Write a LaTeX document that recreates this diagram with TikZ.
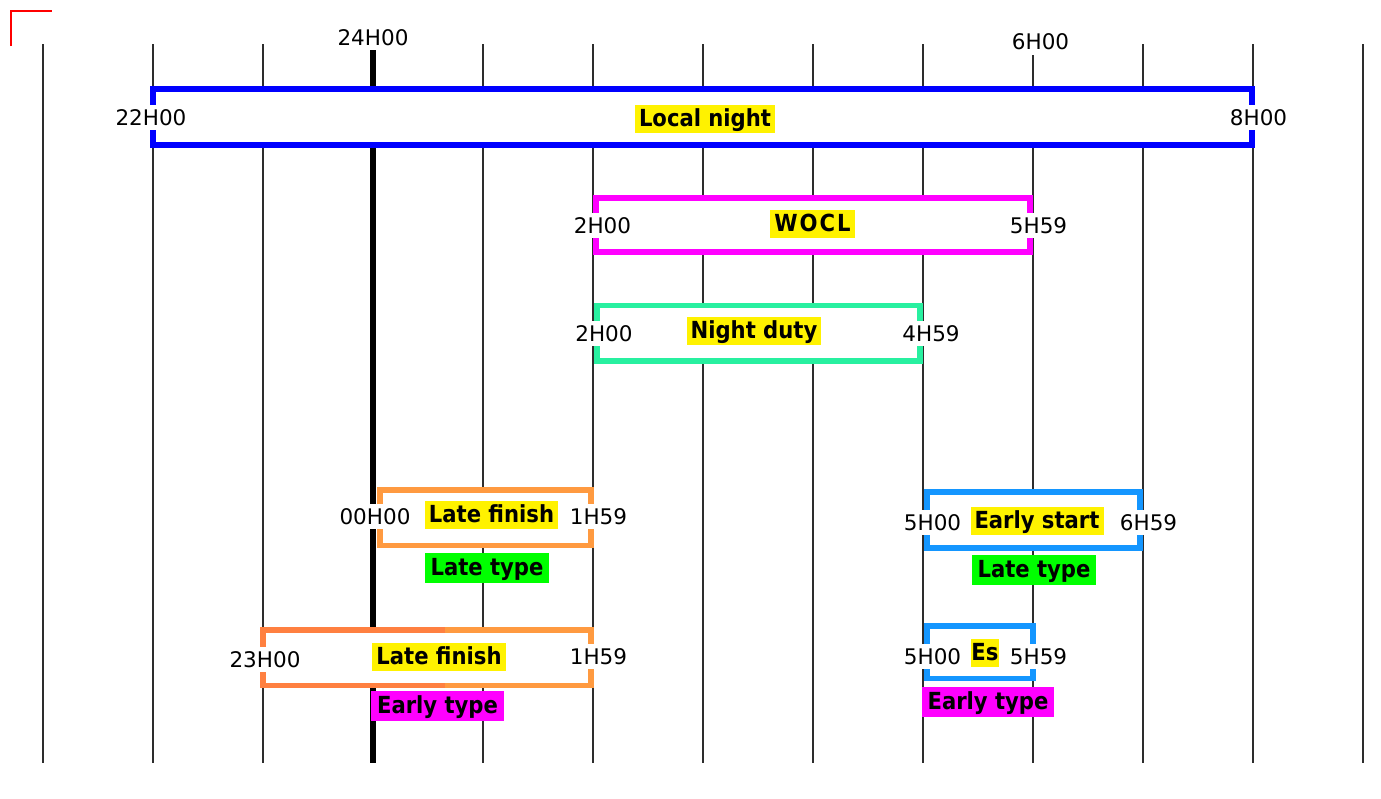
\documentclass[tikz,border=0pt]{standalone}
\usepackage{fontspec}
\setmainfont{DejaVu Sans}
\newfontfamily\tagfont{DejaVu Sans Condensed}
\definecolor{nightblue}{RGB}{0,0,255}
\definecolor{woclpink}{RGB}{255,0,255}
\definecolor{dutygreen}{RGB}{40,240,160}
\definecolor{finishorange}{RGB}{255,154,64}
\definecolor{finishdark}{RGB}{255,128,64}
\definecolor{startblue}{RGB}{20,150,255}
\definecolor{typegreen}{RGB}{0,255,0}
\definecolor{gridgray}{RGB}{45,45,45}

\begin{document}
\begin{tikzpicture}[x=1pt,y=-1pt,
	hour/.style={fill=white,inner xsep=1pt,inner ysep=4.5pt,text height=16pt,text depth=0pt,font=\fontsize{21.5}{24}\selectfont},
	tag/.style={fill=yellow,inner xsep=4pt,inner ysep=3.5pt,text height=18pt,text depth=3pt,font=\tagfont\fontsize{23.5}{26}\selectfont\bfseries},
	kind/.style={tag,inner xsep=6pt,inner ysep=4.5pt},
	span/.style={draw=#1,fill=white,line width=5.5pt}]
			
			\useasboundingbox (0,0) rectangle (1381,798);
			
			% corner mark
			\draw[red,line width=2pt] (11,46) -- (11,11) -- (52,11);
			
			% hour lines
			\foreach \x in {43,153,263,483,593,703,813,923,1143,1253,1363}
				\draw[gridgray,line width=2pt] (\x,44) -- (\x,763);
			\draw[gridgray,line width=2pt] (1033,55) -- (1033,763);
			\draw[black,line width=6pt] (373,50) -- (373,763);
			
			\node[hour] (h24) at (373,37) {24H00};
			\node[hour] (h6) at (1040.5,41) {6H00};
			
			% local night
			\draw[span=nightblue] (153,89) rectangle (1252,145);
			\node[hour] (night-a) at (151,117.5) {22H00};
			\node[hour] (night-b) at (1258.5,117.5) {8H00};
			\node[tag] (night) at (705,118.5) {Local night};
			
			% WOCL
			\draw[span=woclpink] (596,198) rectangle (1030,252);
			\node[hour] (wocl-a) at (602.5,225) {2H00};
			\node[hour] (wocl-b) at (1038.5,225) {5H59};
			\node[tag] (wocl) at (812.5,223.5) {W\kern2pt O\kern2pt C\kern2pt L};
			
			% night duty
			\draw[span=dutygreen] (597,305.5) rectangle (920,361);
			\node[hour] (duty-a) at (604,333.5) {2H00};
			\node[hour] (duty-b) at (931,333.5) {4H59};
			\node[tag] (duty) at (754,331) {Night duty};
			
			% late finish, late type
			\draw[span=finishorange] (380,490) rectangle (591,545.5);
			\node[hour] (lf1-a) at (375,516.5) {00H00};
			\node[hour] (lf1-b) at (598.5,516) {1H59};
			\node[tag] (lf1) at (491.5,515) {Late finish};
			\node[kind,fill=typegreen] (lf1-kind) at (487,568) {Late type};
			
			% early start, late type
			\draw[span=startblue] (927,492) rectangle (1140,548);
			\node[hour] (es1-a) at (932.5,522) {5H00};
			\node[hour] (es1-b) at (1148.5,522) {6H59};
			\node[tag] (es1) at (1037,520.5) {Early start};
			\node[kind,fill=typegreen] (es1-kind) at (1034,570) {Late type};
			
			% late finish, early type
			\draw[span=finishorange] (263,630) rectangle (591,685.5);
			\draw[finishdark,line width=5.5pt] (445,630) -- (263,630) -- (263,685.5) -- (445,685.5);
			\node[hour] (lf2-a) at (265,659) {23H00};
			\node[hour] (lf2-b) at (598.5,656.5) {1H59};
			\node[tag] (lf2) at (439,657) {Late finish};
			\node[kind,fill=woclpink] (lf2-kind) at (437.5,706) {Early type};
			
			% early start, early type
			\draw[span=startblue] (927,626) rectangle (1033,678.5);
			\node[hour] (es2-a) at (932.5,656.5) {5H00};
			\node[hour] (es2-b) at (1038.5,656.5) {5H59};
			\node[tag,inner xsep=0.5pt] (es2) at (985,653) {Es};
			\node[kind,fill=woclpink] (es2-kind) at (988,702) {Early type};
		\end{tikzpicture}
\end{document}
